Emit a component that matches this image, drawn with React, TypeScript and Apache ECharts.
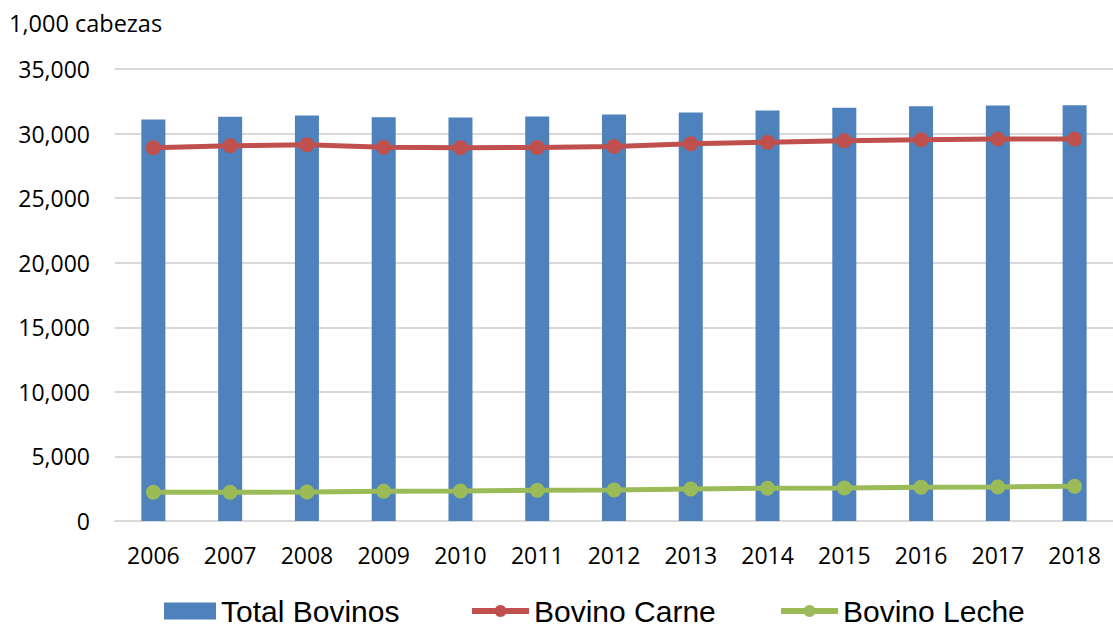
import React, { useEffect, useRef } from "react";
import * as echarts from "echarts";

const years = ["2006","2007","2008","2009","2010","2011","2012","2013","2014","2015","2016","2017","2018"];
const totalBovinos = [31090,31300,31400,31270,31250,31320,31480,31630,31790,32000,32120,32170,32200];
const bovinoCarne = [28900,29060,29130,28950,28900,28920,29000,29210,29330,29440,29520,29570,29570];
const bovinoLeche = [2220,2220,2245,2300,2320,2375,2400,2477,2530,2550,2608,2630,2686];
const yTicks = { min: 0, max: 35000, interval: 5000 };
const unitLabel = "1,000 cabezas";

const numFont = "'Open Sans', sans-serif";
const legendFont = "'Liberation Sans', Arial, sans-serif";

export default function App() {
  const ref = useRef<HTMLDivElement>(null);
  useEffect(() => {
    if (!ref.current) return;
    const chart = echarts.init(ref.current, null, { renderer: "svg" });
    const legendText = { fontFamily: legendFont, fontSize: 30, lineHeight: 27, color: "#000" };
    chart.setOption({
      animation: false,
      backgroundColor: "#ffffff",
      title: {
        text: unitLabel,
        left: 9,
        top: 11,
        padding: 0,
        textStyle: { fontFamily: numFont, fontSize: 23.5, fontWeight: "normal", color: "#000" },
      },
      grid: { left: 115, top: 69, bottom: 107, width: 1006, containLabel: false },
      legend: [
        {
          data: ["Total Bovinos"],
          icon: "rect",
          left: 164,
          top: 596,
          padding: 0,
          itemWidth: 52,
          itemHeight: 17,
          textStyle: legendText,
        },
        {
          data: ["Bovino Carne"],
          left: 469,
          top: 596,
          padding: 0,
          itemWidth: 57,
          itemHeight: 15,
          lineStyle: { width: 6 },
          textStyle: legendText,
        },
        {
          data: ["Bovino Leche"],
          left: 778,
          top: 596,
          padding: 0,
          itemWidth: 57,
          itemHeight: 15,
          lineStyle: { width: 6 },
          textStyle: legendText,
        },
      ],
      xAxis: {
        type: "category",
        data: years,
        axisLine: { lineStyle: { color: "#d9d9d9", width: 2 } },
        axisTick: { show: false },
        axisLabel: { fontFamily: numFont, fontSize: 23, color: "#000", margin: 22 },
      },
      yAxis: {
        type: "value",
        min: yTicks.min,
        max: yTicks.max,
        interval: yTicks.interval,
        axisLine: { show: false },
        axisTick: { show: false },
        splitLine: { lineStyle: { color: "#d9d9d9", width: 2 } },
        axisLabel: {
          fontFamily: numFont,
          fontSize: 23,
          color: "#000",
          margin: 25,
          formatter: (v: number) => v.toLocaleString("en-US"),
        },
      },
      series: [
        {
          name: "Total Bovinos",
          type: "bar",
          data: totalBovinos,
          barWidth: 24,
          itemStyle: { color: "#4F81BD" },
        },
        {
          name: "Bovino Carne",
          type: "line",
          data: bovinoCarne,
          symbol: "circle",
          symbolSize: 15,
          lineStyle: { color: "#C0504D", width: 5 },
          itemStyle: { color: "#C0504D" },
        },
        {
          name: "Bovino Leche",
          type: "line",
          data: bovinoLeche,
          symbol: "circle",
          symbolSize: 15,
          lineStyle: { color: "#9BBB59", width: 5 },
          itemStyle: { color: "#9BBB59" },
        },
      ],
    });
    return () => chart.dispose();
  }, []);
  return (
    <div
      ref={ref}
      style={{ position: "absolute", left: 0, top: 0, width: 1113, height: 628 }}
    />
  );
}
